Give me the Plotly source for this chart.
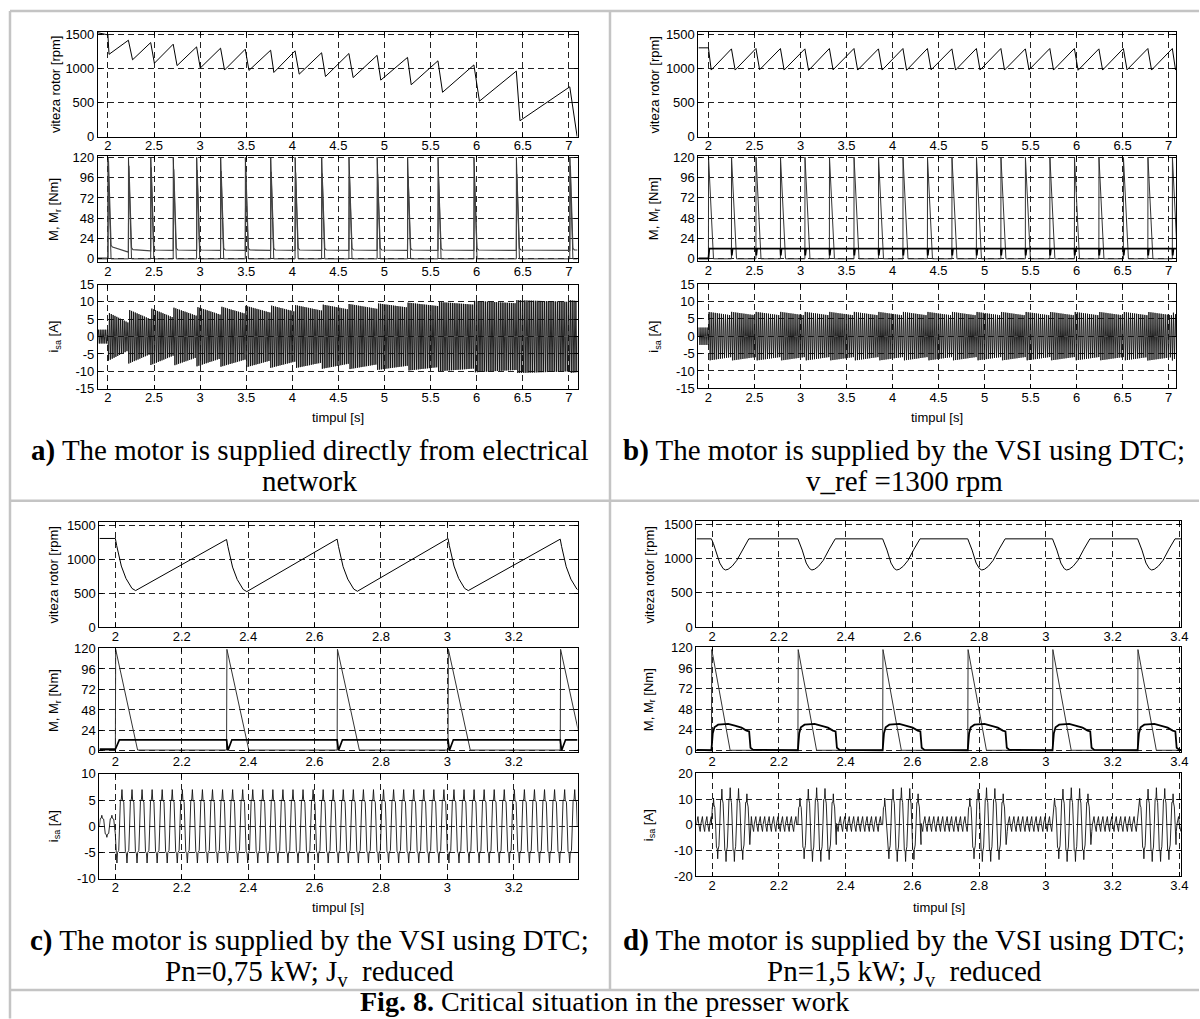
import numpy as np
import plotly.graph_objects as go

W, H = 1200, 1019
AX_FONT = "Liberation Sans, Arial, Helvetica, sans-serif"
CAP_FONT = "Liberation Serif, Times New Roman, serif"

# ------------------------------------------------------------------ tick values / labels
speed_ticks = [0, 500, 1000, 1500]
torque_ticks = [0, 24, 48, 72, 96, 120]
current_ticks_ab = [-15, -10, -5, 0, 5, 10, 15]
current_ticks_c = [-10, -5, 0, 5, 10]
current_ticks_d = [-20, -10, 0, 10, 20]
time_ticks_ab = [2, 2.5, 3, 3.5, 4, 4.5, 5, 5.5, 6, 6.5, 7]
time_labels_ab = ["2", "2.5", "3", "3.5", "4", "4.5", "5", "5.5", "6", "6.5", "7"]
time_ticks_c = [2, 2.2, 2.4, 2.6, 2.8, 3, 3.2]
time_labels_c = ["2", "2.2", "2.4", "2.6", "2.8", "3", "3.2"]
time_ticks_d = [2, 2.2, 2.4, 2.6, 2.8, 3, 3.2, 3.4]
time_labels_d = ["2", "2.2", "2.4", "2.6", "2.8", "3", "3.2", "3.4"]

# ------------------------------------------------------------------ panel a : direct supply
a_span = [1.8915, 7.094]
a_speed_start = 1520
a_spike_t = [2.0, 2.222, 2.464, 2.708, 2.962, 3.222, 3.49, 3.765, 4.03, 4.318, 4.614, 4.92,
             5.25, 5.58, 5.97, 6.43, 7.01]
a_speed_peak = [1490, 1411, 1377, 1353, 1314, 1295, 1280, 1265, 1256, 1228, 1217, 1190,
                1160, 1110, 1050, 960, 730]
a_speed_min = [1205, 1125, 1075, 1040, 1005, 975, 970, 940, 915, 880, 865, 828,
               760, 650, 520, 234, 0]
a_drop_dt = [0.012, 0.045, 0.04, 0.042, 0.04, 0.043, 0.04, 0.035, 0.045, 0.042, 0.046, 0.04,
             0.04, 0.05, 0.06, 0.04, 0.08]
a_load_peak = 120
a_load_fall = 0.034
a_M_before = [1, 8, 9.5, 10, 10, 10, 10, 10, 10, 10, 10, 10, 10, 10, 10, 10, 10]
a_M_after = [14, 11, 10.5, 10.5, 10.5, 10.5, 10.5, 10.5, 10.5, 10.5, 10.5, 10.5, 10.5, 10.5, 10.5, 10.5, 10.5]
a_M_peak = [116, 110, 108, 106, 105, 104, 104, 103, 102, 101, 100, 100, 98, 97, 96, 100, 110]
a_cur_freq = 50
a_cur_pre = 2.0
a_cur_hi = [7.0, 7.8, 8.2, 8.4, 8.6, 8.7, 8.9, 9.0, 9.1, 9.3, 9.4, 9.6, 9.8, 10.0, 10.3, 10.5, 10.5]
a_cur_lo = [4.0, 5.0, 5.5, 6.0, 6.3, 6.6, 6.9, 7.2, 7.5, 7.8, 8.0, 8.4, 8.8, 9.2, 9.6, 10.0, 10.2]

# ------------------------------------------------------------------ panel b : VSI + DTC, v_ref 1300
b_span = [1.891, 7.08]
b_speed_start = 1300
b_spike_t = [2.0, 2.25, 2.516, 2.782, 3.048, 3.314, 3.581, 3.847, 4.113, 4.379, 4.645, 4.911,
             5.177, 5.443, 5.709, 5.976, 6.242, 6.508, 6.774, 7.04]
b_speed_peak = [1300, 1285, 1290, 1290, 1285, 1290, 1290, 1285, 1290, 1290, 1285, 1290,
                1290, 1285, 1290, 1290, 1285, 1290, 1290, 1290]
b_speed_min = [975, 975, 980, 975, 970, 978, 975, 975, 972, 978, 975, 975,
               975, 978, 975, 972, 975, 978, 975, 975]
b_drop_dt = [0.03, 0.04, 0.04, 0.04, 0.04, 0.04, 0.04, 0.04, 0.04, 0.04, 0.04, 0.04,
             0.04, 0.04, 0.04, 0.04, 0.04, 0.04, 0.04, 0.035]
b_load_peak = 120
b_load_fall = 0.055
b_M_pre = 0.5
b_M_level = 12
b_M_dip = 4
b_cur_freq = 45
b_cur_pre = 2.5
b_cur_hi = [7.0, 7.0, 7.0, 7.0, 7.0, 7.0, 7.0, 7.0, 7.0, 7.0, 7.0, 7.0, 7.0, 7.0, 7.0, 7.0, 7.0, 7.0, 7.0, 7.0]
b_cur_lo = [6.0, 6.0, 6.0, 6.0, 6.0, 6.0, 6.0, 6.0, 6.0, 6.0, 6.0, 6.0, 6.0, 6.0, 6.0, 6.0, 6.0, 6.0, 6.0, 6.0]

# ------------------------------------------------------------------ panel c : Pn = 0.75 kW, Jv reduced
c_span = [1.952, 3.392]
c_speed_start = 1305
c_spike_t = [2.0, 2.335, 2.668, 3.002, 3.340]
c_speed_peak = [1305, 1290, 1295, 1305, 1295]
c_drop_dt = [0, 0.004, 0.009, 0.018, 0.032, 0.050, 0.061]
c_drop_dv = [0, -105, -220, -405, -587, -733, -765]
c_load_base = 1
c_load_peak = 119
c_load_fall = 0.067
c_M_pre = 2
c_M_level = 13
c_M_dip = 0.5
c_cur_freq = 33
c_cur_pre = 0.3
c_cur_phase = [0.0, 0.08, 0.18, 0.24, 0.30, 0.42, 0.5, 0.58, 0.68, 0.74, 0.80, 0.92]
c_cur_shape = [0.0, 4.8, 5.2, 7.0, 5.0, 4.6, 0.0, -4.8, -5.2, -7.0, -5.0, -4.6]

# ------------------------------------------------------------------ panel d : Pn = 1.5 kW, Jv reduced
d_span = [1.953, 3.405]
d_speed_level = 1290
d_spike_t = [1.998, 2.257, 2.511, 2.766, 3.020, 3.275]
d_dip_dt = [0, 0.006, 0.013, 0.025, 0.035, 0.042, 0.05, 0.062, 0.076, 0.094, 0.112]
d_dip_v = [1290, 1220, 1126, 936, 855, 835, 845, 890, 975, 1140, 1290]
d_load_peak = 118
d_load_fall = 0.056
d_M_dt = [0, 0.004, 0.009, 0.02, 0.05, 0.07, 0.09, 0.105, 0.113, 0.117, 0.125]
d_M_v = [0, 20, 27, 30, 31, 29, 26.5, 23, 22, 3, 0.5]
d_M_base = 0.5
d_burst_len = 0.115
d_burst_freq = 40
d_burst_env_dt = [0, 0.02, 0.05, 0.09, 0.115]
d_burst_env_v = [9, 13.5, 14.5, 14, 11]
d_burst_phase = [0.0, 0.1, 0.2, 0.25, 0.3, 0.4, 0.5, 0.6, 0.7, 0.75, 0.8, 0.9]
d_burst_shape = [0.0, 0.7, 0.72, 1.0, 0.72, 0.6, 0.0, -0.7, -0.72, -1.0, -0.72, -0.6]
d_ripple_freq = 75
d_ripple_phase = [0.0, 0.35, 0.5, 0.85]
d_ripple_shape = [0.3, 3.2, 0.5, -2.6]


# ================================================================== series builders
def speed_saw(span, start_v, spike_t, peak_v, min_v, drop_dt):
    t, v = [span[0]], [start_v]
    for tk, pk, mn, dd in zip(spike_t, peak_v, min_v, drop_dt):
        t += [tk, tk + dd]
        v += [pk, mn]
    return t, v


def load_tri(span, spike_t, base, peak, fall):
    t, v = [span[0]], [base]
    for tk in spike_t:
        t += [tk, tk + 0.001, tk + fall]
        v += [base, peak, base]
    t.append(span[1]); v.append(base)
    return t, v


def wave(t0, t1, freq, phases, shape, env):
    ts, vs = [], []
    k = 0
    while t0 + k / freq <= t1:
        for ph, s in zip(phases, shape):
            tt = t0 + (k + ph) / freq
            if t0 <= tt <= t1:
                ts.append(tt)
                vs.append(s * env(tt))
        k += 1
    return ts, vs


def seg_env(span, spike_t, pre, hi, lo):
    et, ev = [span[0], spike_t[0] - 1e-4], [pre, pre]
    ends = spike_t[1:] + [span[1] + 0.01]
    for tk, te, h, l in zip(spike_t, ends, hi, lo):
        et += [tk, te - 1e-4]
        ev += [h, l]
    return lambda tt: np.interp(tt, et, ev)


# panel a
a_speed = speed_saw(a_span, a_speed_start, a_spike_t, a_speed_peak, a_speed_min, a_drop_dt)
a_load = load_tri(a_span, a_spike_t, 0, a_load_peak, a_load_fall)
a_Mt, a_Mv = [a_span[0]], [a_M_before[0]]
for tk, b0, pk, af in zip(a_spike_t, a_M_before, a_M_peak, a_M_after):
    a_Mt += [tk, tk + 0.006, tk + 0.034, tk + 0.05]
    a_Mv += [b0, pk, af + 2, af]
a_Mt.append(a_span[1]); a_Mv.append(a_M_after[-1])
a_cur = wave(a_span[0], a_span[1], a_cur_freq, [0, 0.25, 0.5, 0.75], [0, 1, 0, -1],
             seg_env(a_span, a_spike_t, a_cur_pre, a_cur_hi, a_cur_lo))

# panel b
b_speed = speed_saw(b_span, b_speed_start, b_spike_t, b_speed_peak, b_speed_min, b_drop_dt)
b_load = load_tri(b_span, b_spike_t, 0, b_load_peak, b_load_fall)
b_Mt, b_Mv = [b_span[0], b_spike_t[0], b_spike_t[0] + 0.01], [b_M_pre, b_M_pre, b_M_level]
for tk in b_spike_t[1:]:
    b_Mt += [tk, tk + 0.004, tk + 0.012]
    b_Mv += [b_M_level, b_M_dip, b_M_level]
b_Mt.append(b_span[1]); b_Mv.append(b_M_level)
b_cur = wave(b_span[0], b_span[1], b_cur_freq, [0, 0.25, 0.5, 0.75], [0, 1, 0, -1],
             seg_env(b_span, b_spike_t, b_cur_pre, b_cur_hi, b_cur_lo))

# panel c
c_st, c_sv = [c_span[0]], [c_speed_start]
for tk, pk in zip(c_spike_t, c_speed_peak):
    for dt, dv in zip(c_drop_dt, c_drop_dv):
        c_st.append(tk + dt); c_sv.append(pk + dv)
c_load = load_tri(c_span, c_spike_t, c_load_base, c_load_peak, c_load_fall)
c_Mt, c_Mv = [c_span[0], c_spike_t[0], c_spike_t[0] + 0.012], [c_M_pre, c_M_pre, c_M_level]
for tk in c_spike_t[1:]:
    c_Mt += [tk, tk + 0.004, tk + 0.016]
    c_Mv += [c_M_level, c_M_dip, c_M_level]
c_Mt.append(c_span[1]); c_Mv.append(c_M_level)
c_cur = wave(c_span[0], c_span[1], c_cur_freq, c_cur_phase, c_cur_shape,
             lambda tt: c_cur_pre if tt < c_spike_t[0] else 1.0)

# panel d
d_st, d_sv = [d_span[0]], [d_speed_level]
for tk in d_spike_t:
    for dt, v in zip(d_dip_dt, d_dip_v):
        d_st.append(tk + dt); d_sv.append(v)
d_st.append(d_span[1]); d_sv.append(d_speed_level)
d_load = load_tri(d_span, d_spike_t, 0, d_load_peak, d_load_fall)
d_Mt, d_Mv = [d_span[0]], [d_M_base]
for tk in d_spike_t:
    for dt, v in zip(d_M_dt, d_M_v):
        d_Mt.append(tk + dt); d_Mv.append(v)
d_Mt.append(d_span[1]); d_Mv.append(d_M_base)


def in_burst(tt):
    return any(tk <= tt <= tk + d_burst_len for tk in d_spike_t)


rt, rv = wave(d_span[0], d_span[1], d_ripple_freq, d_ripple_phase, d_ripple_shape, lambda tt: 1.0)
pts = [(t, v) for t, v in zip(rt, rv) if not in_burst(t)]
for tk in d_spike_t:
    bt, bv = wave(tk, tk + d_burst_len, d_burst_freq, d_burst_phase, d_burst_shape,
                  lambda tt, tk=tk: np.interp(tt - tk, d_burst_env_dt, d_burst_env_v))
    pts += [(t, v) for t, v in zip(bt, bv) if t <= d_span[1]]
pts.sort()
d_cur = ([p[0] for p in pts], [p[1] for p in pts])

# ================================================================== layout geometry (target pixels)
# calibration of target pixel -> paper fraction (measured from a previous render)
X_SCALE = 0.995
Y_OFF, Y_SCALE = 6.1, 0.9866


def PX(x):
    return x / X_SCALE / W


def PY(y):
    return 1 - (y - Y_OFF) / Y_SCALE / H


panels = [
    dict(x=(98, 578), rows=[(30.7, 136), (155, 261.7), (284, 388.3)], xr=a_span,
         yr=[[0, 1538], [-4, 122], [-15, 15]], cur_ticks=current_ticks_ab,
         tt=time_ticks_ab, tl=time_labels_ab, ytitle_x=55, xtitle_y=417, Mw=1.2, Mc="#444444",
         speed=a_speed, load=a_load, M=(a_Mt, a_Mv), cur=a_cur),
    dict(x=(699, 1177), rows=[(30.7, 136), (155.3, 260.8), (283.5, 388)], xr=b_span,
         yr=[[0, 1538], [-3, 121.5], [-15, 15]], cur_ticks=current_ticks_ab,
         tt=time_ticks_ab, tl=time_labels_ab, ytitle_x=655, xtitle_y=417, Mw=1.7, Mc="black",
         speed=b_speed, load=b_load, M=(b_Mt, b_Mv), cur=b_cur),
    dict(x=(99.5, 578), rows=[(521.7, 627.3), (648, 752.3), (774, 879)], xr=c_span,
         yr=[[0, 1548], [-1.5, 120.5], [-10, 10]], cur_ticks=current_ticks_c,
         tt=time_ticks_c, tl=time_labels_c, ytitle_x=54, xtitle_y=908, Mw=1.7, Mc="black",
         speed=(c_st, c_sv), load=c_load, M=(c_Mt, c_Mv), cur=c_cur),
    dict(x=(697, 1182), rows=[(521, 627), (647, 752.5), (773.5, 876.5)], xr=d_span,
         yr=[[0, 1548], [-2.5, 121], [-20, 20]], cur_ticks=current_ticks_d,
         tt=time_ticks_d, tl=time_labels_d, ytitle_x=650, xtitle_y=908, Mw=1.8, Mc="black",
         speed=(d_st, d_sv), load=d_load, M=(d_Mt, d_Mv), cur=d_cur),
]

fig = go.Figure()
layout = dict(width=W, height=H, margin=dict(l=0, r=0, t=0, b=0),
              paper_bgcolor="white", plot_bgcolor="white", showlegend=False,
              font=dict(family=AX_FONT, size=13, color="black"))
annotations = []


def axis_common():
    return dict(showline=True, linecolor="black", linewidth=1, mirror="ticks",
                ticks="inside", ticklen=4, tickcolor="black", tickwidth=1,
                showgrid=True, gridcolor="#222222", gridwidth=0.8, griddash="6px,4px",
                zeroline=False, fixedrange=True,
                tickfont=dict(family=AX_FONT, size=13, color="black"))


ytitles = ["viteza rotor [rpm]", "M, M<sub>r</sub> [Nm]", "i<sub>sa</sub> [A]"]
n = 0
for p in panels:
    ytick_sets = [speed_ticks, torque_ticks, p["cur_ticks"]]
    for r in range(3):
        n += 1
        xname = "xaxis" if n == 1 else f"xaxis{n}"
        yname = "yaxis" if n == 1 else f"yaxis{n}"
        xref = "x" if n == 1 else f"x{n}"
        yref = "y" if n == 1 else f"y{n}"
        top, bot = p["rows"][r]
        xa = axis_common()
        xa.update(domain=[PX(p["x"][0]), PX(p["x"][1])], range=p["xr"], anchor=yref,
                  tickmode="array", tickvals=p["tt"], ticktext=p["tl"], ticklabelstandoff=-3)
        ya = axis_common()
        ya.update(domain=[PY(bot), PY(top)], range=p["yr"][r], anchor=xref,
                  tickmode="array", tickvals=ytick_sets[r],
                  ticktext=[str(v) for v in ytick_sets[r]])
        layout[xname] = xa
        layout[yname] = ya
        if r == 0:
            fig.add_trace(go.Scatter(x=p["speed"][0], y=p["speed"][1], mode="lines",
                                     line=dict(color="black", width=1), xaxis=xref, yaxis=yref,
                                     hoverinfo="skip"))
        elif r == 1:
            fig.add_trace(go.Scatter(x=p["load"][0], y=p["load"][1], mode="lines",
                                     line=dict(color="#333333", width=1), xaxis=xref, yaxis=yref,
                                     hoverinfo="skip"))
            fig.add_trace(go.Scatter(x=p["M"][0], y=p["M"][1], mode="lines",
                                     line=dict(color=p["Mc"], width=p["Mw"]), xaxis=xref, yaxis=yref,
                                     hoverinfo="skip"))
        else:
            fig.add_trace(go.Scatter(x=p["cur"][0], y=p["cur"][1], mode="lines",
                                     line=dict(color="#111111", width=0.9), xaxis=xref, yaxis=yref,
                                     hoverinfo="skip"))
        annotations.append(dict(text=ytitles[r], xref="paper", yref="paper",
                                x=PX(p["ytitle_x"]), y=PY((top + bot) / 2),
                                textangle=-90, showarrow=False, xanchor="center", yanchor="middle",
                                font=dict(family=AX_FONT, size=13, color="black")))
    annotations.append(dict(text="timpul [s]", xref="paper", yref="paper",
                            x=PX((p["x"][0] + p["x"][1]) / 2), y=PY(p["xtitle_y"]),
                            showarrow=False, xanchor="center", yanchor="middle",
                            font=dict(family=AX_FONT, size=13, color="black")))

captions = [
    ("<b>a)</b> The motor is supplied directly from electrical", 310, 450, 29),
    ("network", 310, 481, 29),
    ("<b>b)</b> The motor is supplied by the VSI using DTC;", 905, 450, 29),
    ("v_ref =1300 rpm", 905, 481, 29),
    ("<b>c)</b> The motor is supplied by the VSI using DTC;", 310, 941, 29),
    ("Pn=0,75 kW; J<sub>v</sub>  reduced", 310, 973, 29),
    ("<b>d)</b> The motor is supplied by the VSI using DTC;", 905, 941, 29),
    ("Pn=1,5 kW; J<sub>v</sub>  reduced", 905, 973, 29),
    ("<b>Fig. 8.</b> Critical situation in the presser work", 605, 1002, 28),
]
for txt, cx, cy, fs in captions:
    annotations.append(dict(text=txt, xref="paper", yref="paper", x=PX(cx), y=PY(cy),
                            showarrow=False, xanchor="center", yanchor="middle",
                            font=dict(family=CAP_FONT, size=fs, color="black")))

border = dict(color="#c4c4c4", width=2.5)
shapes = []
for (x0, y0, x1, y1) in [(10, 10, 1200, 10), (10, 10, 10, 1019), (610.5, 10, 610.5, 990.5),
                         (10, 500.5, 1200, 500.5), (10, 990.5, 1200, 990.5)]:
    shapes.append(dict(type="line", xref="paper", yref="paper",
                       x0=PX(x0), x1=PX(x1), y0=PY(y0), y1=PY(y1), line=border))

layout["annotations"] = annotations
layout["shapes"] = shapes
fig.update_layout(**layout)

fig.write_html("out.html", config={"displayModeBar": False},
               post_script="document.body.style.margin='0';document.body.style.overflow='hidden';"
                           "document.documentElement.style.overflow='hidden';")
